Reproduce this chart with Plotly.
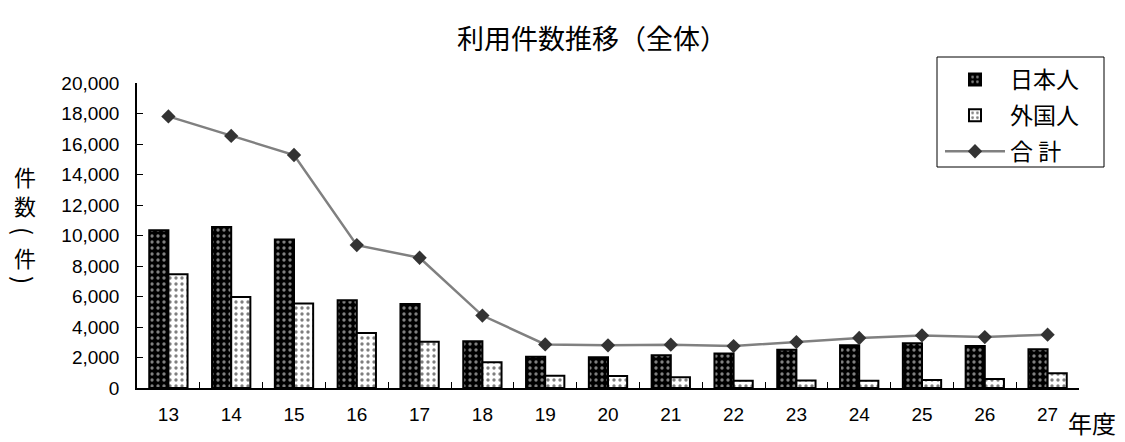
import plotly.graph_objects as go

years = ["13", "14", "15", "16", "17", "18", "19", "20", "21", "22", "23", "24", "25", "26", "27"]
japanese = [10350, 10560, 9740, 5760, 5510, 3060, 2050, 2010, 2140, 2270, 2510, 2800, 2930, 2750, 2540]
foreign = [7460, 5970, 5540, 3610, 3030, 1690, 810, 790, 700, 480, 500, 480, 520, 590, 960]
total = [17810, 16530, 15280, 9370, 8540, 4750, 2860, 2800, 2840, 2750, 3010, 3280, 3450, 3340, 3500]
y_ticks = [0, 2000, 4000, 6000, 8000, 10000, 12000, 14000, 16000, 18000, 20000]

FONT = "Liberation Sans, Arial, Noto Sans CJK JP, sans-serif"
CJK = "Noto Sans CJK JP, sans-serif"

W, H = 1125, 442
L, R, T, B = 137, 46, 83, 54
PW, PH = W - L - R, H - T - B

def px_x(x):
    return (x - L) / PW

def px_y(y):
    return (H - B - y) / PH

fig = go.Figure()
fig.add_trace(go.Bar(
    x=years, y=japanese, name="日本人", legendgroup="a",
    marker=dict(color="black", line=dict(color="black", width=2),
                pattern=dict(shape=".", fgcolor="white", bgcolor="black", size=6, solidity=0.25)),
))
fig.add_trace(go.Bar(
    x=years, y=foreign, name="外国人", legendgroup="b",
    marker=dict(color="white", line=dict(color="black", width=2),
                pattern=dict(shape=".", fgcolor="black", bgcolor="white", size=6, solidity=0.25)),
))
fig.add_trace(go.Scatter(
    x=years, y=total, name="合 計", mode="lines+markers", legendgroup="c",
    line=dict(color="#808080", width=2.5),
    marker=dict(symbol="diamond", size=11, color="#333333"),
))

fig.update_layout(
    width=W, height=H,
    margin=dict(l=L, r=R, t=T, b=B, autoexpand=False),
    paper_bgcolor="white", plot_bgcolor="white",
    barmode="group", bargap=0.39, bargroupgap=0,
    font=dict(family=FONT, color="black", size=19),
    title=dict(text="利用件数推移（全体）", x=592 / W, xanchor="center", y=1 - 40 / H, yanchor="middle",
               font=dict(family=CJK, size=27, color="black")),
    legend=dict(x=px_x(940), xanchor="left", y=px_y(58), yanchor="top",
                borderwidth=0, bgcolor="rgba(0,0,0,0)",
                font=dict(family=CJK, size=23, color="black"),
                traceorder="grouped", tracegroupgap=3, itemwidth=60),
    showlegend=True,
    shapes=[dict(type="rect", xref="paper", yref="paper",
                 x0=px_x(937), x1=px_x(1104), y0=px_y(167), y1=px_y(57),
                 line=dict(color="black", width=1), fillcolor="rgba(0,0,0,0)", layer="above")],
)

fig.update_xaxes(
    range=[-0.5, len(years) - 0.5],
    showline=True, linecolor="black", linewidth=1.5,
    ticks="inside", ticklen=6, tickcolor="black", tickson="boundaries",
    showgrid=False, tickfont=dict(size=19, family=FONT), ticklabelstandoff=8,
)
fig.update_yaxes(
    range=[0, 20000], tickvals=y_ticks, tickformat=",d",
    showline=True, linecolor="black", linewidth=1.5,
    ticks="inside", ticklen=6, tickcolor="black",
    showgrid=False, zeroline=False, tickfont=dict(size=19, family=FONT), ticklabelstandoff=12,
)

# vertical axis title 件数（件）, stacked vertically
for txt, yy, ang, sz in [("件", 176, 0, 22), ("数", 205, 0, 22), ("(", 231, 90, 24),
                         ("件", 257, 0, 22), (")", 280, 90, 24)]:
    fig.add_annotation(text=txt, xref="paper", yref="paper", textangle=ang,
                       x=px_x(25), y=px_y(yy), xanchor="center", yanchor="middle", showarrow=False,
                       font=dict(family=CJK, size=sz, color="black"))
fig.add_annotation(text="年度", xref="paper", yref="paper",
                   x=px_x(1092), y=px_y(423), xanchor="center", yanchor="middle", showarrow=False,
                   font=dict(family=CJK, size=24, color="black"))

fig.write_html("out.html")
